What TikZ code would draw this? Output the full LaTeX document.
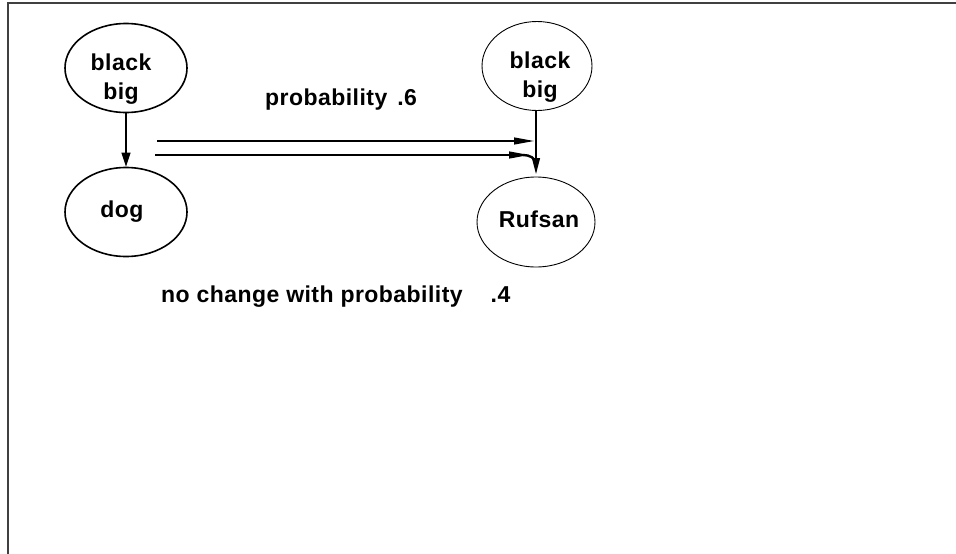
\documentclass[tikz,border=0pt]{standalone}
\usepackage{fontspec}
\setmainfont{Liberation Sans}[LetterSpace=2]
\usetikzlibrary{arrows.meta,shapes.geometric}
\begin{document}
\begin{tikzpicture}[x=1pt,y=-1pt,
  lbl/.style={font=\fontsize{23}{29}\selectfont\bfseries, align=center, inner sep=0pt},
  bubbase/.style={draw, ellipse, inner sep=0pt},
  bubL/.style={bubbase, line width=1.6pt, minimum width=122pt, minimum height=89pt},
  bubR/.style={bubbase, line width=0.9pt, minimum width=110pt, minimum height=89pt},
  conn/.style={line width=1.2pt},
  tipV/.style={-{Triangle[length=14pt,width=9pt]}},
  tipH/.style={-{Triangle[length=20pt,width=7pt]}},
  tipR/.style={-{Triangle[length=16pt,width=8pt]}}
]
\useasboundingbox (0,0) rectangle (956,554);
% frame
\draw[black!75, line width=2pt] (8,554) -- (8,3) -- (956,3);

% nodes
\node[bubL, label={[lbl, yshift=-11pt, xshift=-5pt]center:black\\big}] (lt) at (126,68) {};
\node[bubL, label={[lbl, xshift=-4pt]center:dog}] (dog) at (126,212) {};
\node[bubR, label={[lbl, yshift=-11pt, xshift=3pt]center:black\\big}] (rt) at (537,66) {};
\node[bubR, minimum width=118pt, minimum height=90pt, label={[lbl, xshift=3pt, yshift=3pt]center:Rufsan}] (ruf) at (536,222) {};

% texts
\node[lbl, anchor=base west] (p6) at (265,105) {probability\hspace{10pt}.6};
\node[lbl, anchor=base west] (p4) at (161,302) {no change with probability\hspace{28pt}.4};

% connectors
\draw[conn, tipV] (lt.south) -- (dog.north);
\coordinate (a1) at (157,141);
\coordinate (b1) at (534,141);
\coordinate (a2) at (155,155);
\coordinate (b2) at (529,155);
\coordinate (c2) at (536,164);
\coordinate (rb) at (536,110);
\coordinate (rtip) at (536,174);
\draw[conn, tipH] (a1) -- (b1);
\draw[conn, tipH] (a2) -- (b2);
\draw[line width=2.4pt] (b2) ++(-6,0) to[out=0,in=90] (c2);
\draw[conn, tipR] (rb) -- (rtip);
\end{tikzpicture}
\end{document}
